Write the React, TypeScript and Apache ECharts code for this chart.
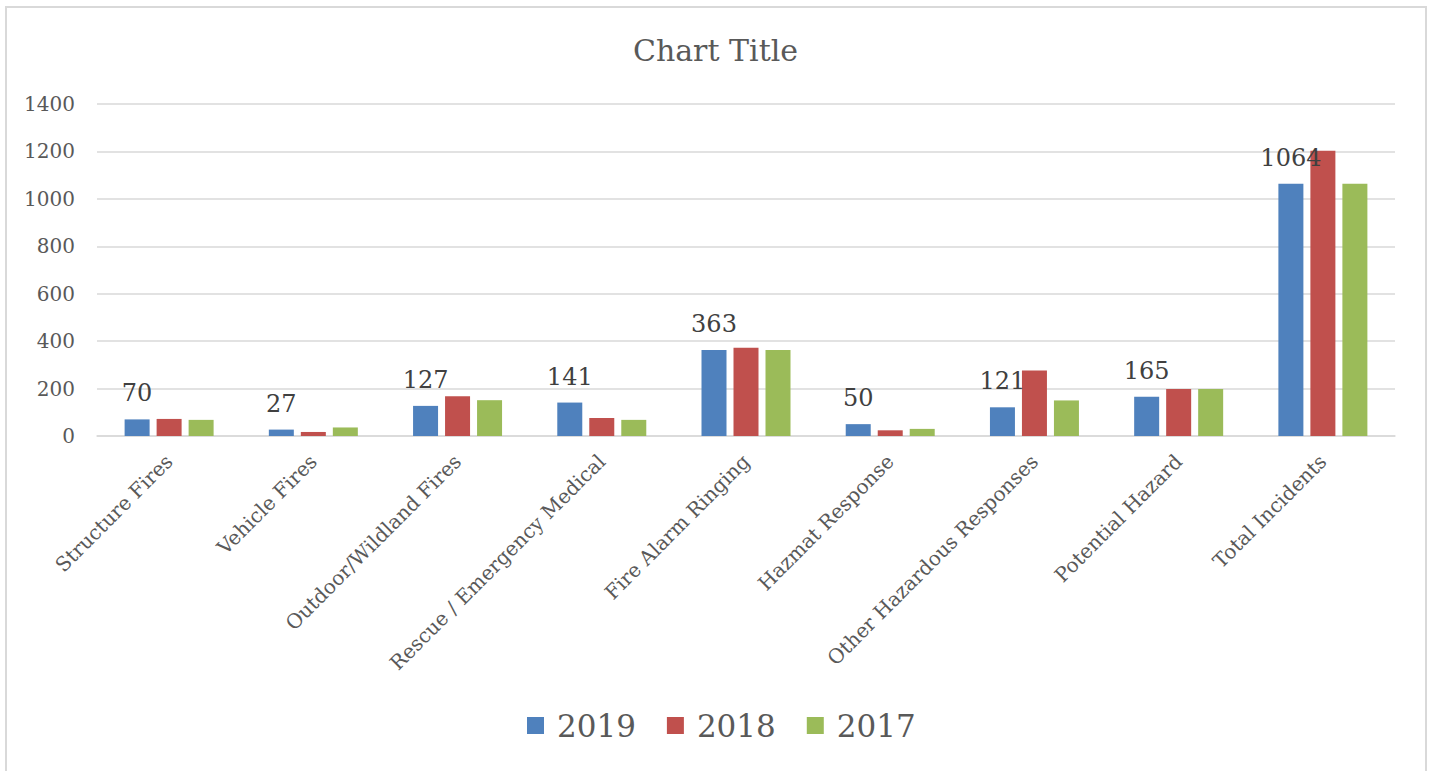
import React, { useEffect, useRef } from "react";
import * as echarts from "echarts";

const categories = [
  "Structure Fires",
  "Vehicle Fires",
  "Outdoor/Wildland Fires",
  "Rescue / Emergency Medical",
  "Fire Alarm Ringing",
  "Hazmat Response",
  "Other Hazardous Responses",
  "Potential Hazard",
  "Total Incidents",
];
const seriesNames = ["2019", "2018", "2017"];
const values2019 = [70, 27, 127, 141, 363, 50, 121, 165, 1064];
const values2018 = [72, 17, 168, 76, 372, 24, 276, 198, 1203];
const values2017 = [68, 36, 151, 68, 363, 30, 150, 198, 1064];
const yTicks = { min: 0, max: 1400, interval: 200 };
const colors = ["#4F81BD", "#C0504D", "#9BBB59"];

const FONT = "DejaVu Serif";

export default function App() {
  const ref = useRef<HTMLDivElement>(null);
  useEffect(() => {
    if (!ref.current) return;
    const chart = echarts.init(ref.current, null, { renderer: "svg" });
    const data = [values2019, values2018, values2017];
    chart.setOption({
      animation: false,
      color: colors,
      textStyle: { fontFamily: FONT, color: "#595959" },
      title: {
        text: "Chart Title",
        left: "center",
        top: 30,
        textStyle: { fontFamily: FONT, fontSize: 30, fontWeight: "normal", color: "#595959" },
      },
      graphic: [
        {
          type: "rect",
          silent: true,
          z: -1,
          shape: { x: 6, y: 7, width: 1420, height: 800 },
          style: { fill: "none", stroke: "#d9d9d9", lineWidth: 2 },
        },
      ],
      legend: {
        data: seriesNames,
        top: 710,
        left: 527,
        padding: 0,
        icon: "rect",
        itemWidth: 17,
        itemHeight: 17,
        itemGap: 31,
        textStyle: { fontFamily: FONT, fontSize: 31, color: "#595959", padding: [0, 0, 0, 8] },
      },
      grid: { left: 97, right: 36, top: 104, bottom: 335, containLabel: false },
      xAxis: {
        type: "category",
        data: categories,
        axisTick: { show: false },
        axisLine: { lineStyle: { color: "#d9d9d9", width: 1.5 } },
        axisLabel: {
          interval: 0,
          rotate: 45,
          margin: 22,
          fontFamily: FONT,
          fontSize: 20,
          color: "#595959",
        },
      },
      yAxis: {
        type: "value",
        min: yTicks.min,
        max: yTicks.max,
        interval: yTicks.interval,
        axisLine: { show: false },
        axisTick: { show: false },
        splitLine: { lineStyle: { color: "#d9d9d9", width: 1.5 } },
        axisLabel: {
          margin: 22,
          fontFamily: FONT,
          fontSize: 20,
          color: "#595959",
          formatter: (v: number) => String(v),
        },
      },
      series: seriesNames.map((name, i) => ({
        name,
        type: "bar",
        data: data[i],
        barWidth: 25,
        barGap: "28%",
        itemStyle: { color: colors[i] },
        label:
          i === 0
            ? {
                show: true,
                position: "top",
                distance: 14,
                fontFamily: FONT,
                fontSize: 24,
                color: "#404040",
              }
            : { show: false },
      })),
    });
    return () => chart.dispose();
  }, []);
  return (
    <div
      ref={ref}
      style={{ position: "absolute", left: 0, top: 0, width: 1431, height: 771 }}
    />
  );
}
